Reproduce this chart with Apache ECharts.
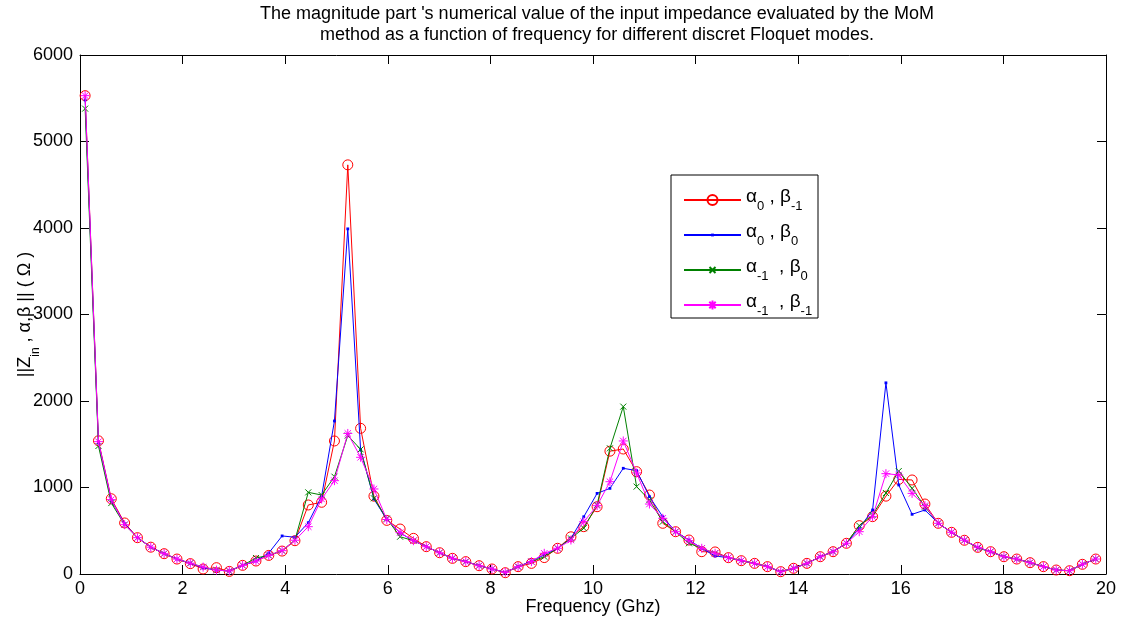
<!DOCTYPE html>
<html>
<head>
<meta charset="utf-8">
<script src="https://cdn.jsdelivr.net/npm/echarts@6/dist/echarts.min.js"></script>
<style>html,body{margin:0;padding:0;background:#fff}#c{width:1122px;height:625px}</style>
</head>
<body>
<div id="c"></div>
<script>
var freq = [0.10,0.36,0.61,0.87,1.12,1.38,1.64,1.89,2.15,2.40,2.66,2.91,3.17,3.43,3.68,3.94,4.19,4.45,4.71,4.96,
5.22,5.47,5.73,5.98,6.24,6.50,6.75,7.01,7.26,7.52,7.78,8.03,8.29,8.54,8.80,9.05,9.31,9.57,9.82,10.08,
10.33,10.59,10.85,11.10,11.36,11.61,11.87,12.12,12.38,12.64,12.89,13.15,13.40,13.66,13.91,14.17,14.43,14.68,14.94,15.19,
15.45,15.71,15.96,16.22,16.47,16.73,16.99,17.24,17.50,17.75,18.01,18.26,18.52,18.78,19.03,19.29,19.54,19.80];

var zA0Bm1 = [5530,1540,870,590,420,310,235,173,120,58,73,30,100,150,215,265,385,798,829,1538,
4730,1684,900,620,520,412,316,246,181,143,96,58,15,85,123,190,297,430,547,778,
1420,1445,1183,913,586,489,393,258,255,189,154,123,85,27,66,123,200,258,355,559,
663,900,1094,1087,809,586,482,390,308,258,200,173,131,85,46,38,112,173];

var zA0B0 = [5480,1520,850,580,420,310,235,173,125,70,46,35,100,150,243,440,425,593,900,1769,
3990,1434,867,630,474,385,316,246,181,143,96,58,19,85,150,220,297,412,662,932,
990,1222,1195,894,662,489,393,297,208,189,154,123,85,27,66,123,200,258,355,528,
740,2210,1029,690,740,586,482,390,308,258,200,173,131,85,46,38,112,173];

var zAm1B0 = [5380,1480,820,570,420,310,235,173,125,80,45,35,100,185,215,270,393,944,913,1125,
1600,1441,875,640,431,385,316,246,181,143,96,58,19,85,143,200,297,412,530,800,
1453,1935,1010,855,605,489,355,297,240,189,154,123,85,27,66,123,200,258,355,559,
682,936,1190,990,778,586,482,390,300,258,200,173,131,85,46,38,112,173];

var zAm1Bm1 = [5530,1530,860,570,420,310,235,173,125,80,45,35,100,150,215,270,390,547,867,1079,
1625,1349,983,630,478,385,316,246,181,143,96,58,19,85,143,239,297,393,605,790,
1067,1538,1168,809,644,489,385,297,240,189,154,123,85,27,66,123,200,258,355,489,
663,1160,1145,932,790,586,482,390,308,258,200,173,131,85,46,38,112,173];

var seriesNames = ['a0b-1','a0b0','a-1b0','a-1b-1'];
var legendLabels = {
  'a0b-1': '{n|α}{s|0}{n| , β}{s|-1}',
  'a0b0': '{n|α}{s|0}{n| , β}{s|0}',
  'a-1b0': '{n|α}{s|-1}{n|  , β}{s|0}',
  'a-1b-1': '{n|α}{s|-1}{n|  , β}{s|-1}'
};
var xTicks = {min:0, max:20, interval:2};
var yTicks = {min:0, max:6000, interval:1000};

function pairs(ys){ return freq.map(function(f,i){ return [f, ys[i]]; }); }

var SYM_CIRCLE = 'path://M0,0M12,12M1,6A5,5,0,1,1,11,6A5,5,0,1,1,1,6Z';
var SYM_DOT = 'path://M0,0M12,12M4.6,4.6H7.4V7.4H4.6Z';
var SYM_X = 'path://M0,0M12,12M3,3L9,9M9,3L3,9';
var SYM_STAR = 'path://M0,0M12,12M6,1.5V10.5M1.5,6H10.5M2.8,2.8L9.2,9.2M9.2,2.8L2.8,9.2';

var FONT = 'Liberation Sans, Arial, Helvetica, sans-serif';
var chart = echarts.init(document.getElementById('c'), null, {renderer:'canvas'});
var axisCommon = {
  axisLine:{show:true, onZero:false, lineStyle:{color:'#000', width:1}},
  axisTick:{show:true, inside:true, length:9, lineStyle:{color:'#000'}},
  splitLine:{show:false}
};
chart.setOption({
  animation:false,
  backgroundColor:'#fff',
  textStyle:{fontFamily:FONT},
  title:{
    text:"The magnitude part 's numerical value of the input impedance evaluated by the MoM\nmethod as a function of frequency for different discret Floquet modes.",
    left:592, top:-1, textAlign:'center',
    textStyle:{fontSize:18, fontWeight:'normal', color:'#000', lineHeight:21, fontFamily:FONT}
  },
  grid:{left:80, right:16, top:55, bottom:51, containLabel:false, outerBoundsMode:'none'},
  graphic:[{type:'rect', shape:{x:671, y:175, width:147, height:143}, style:{fill:'#fff', stroke:'#000', lineWidth:1}, z:50}],
  legend:{
    show:true, orient:'vertical', left:671, top:175,
    padding:[12,8,4,12], itemGap:9, itemWidth:57, itemHeight:15,
    z:60,
    data:seriesNames,
    formatter:function(n){ return legendLabels[n]; },
    textStyle:{color:'#000', rich:{
      n:{fontSize:19, lineHeight:26, verticalAlign:'top', fontFamily:FONT, color:'#000'},
      s:{fontSize:13, lineHeight:26, verticalAlign:'bottom', fontFamily:FONT, color:'#000'}
    }}
  },
  xAxis:[
    Object.assign({type:'value', position:'bottom', min:xTicks.min, max:xTicks.max, interval:xTicks.interval,
      name:'Frequency (Ghz)', nameLocation:'middle', nameGap:24, nameMoveOverlap:false,
      nameTextStyle:{fontSize:18, color:'#000', fontFamily:FONT},
      axisLabel:{fontSize:18, color:'#000', margin:6, fontFamily:FONT}}, axisCommon),
    Object.assign({type:'value', position:'top', min:xTicks.min, max:xTicks.max, interval:xTicks.interval,
      axisLabel:{show:false}}, axisCommon)
  ],
  yAxis:[
    Object.assign({type:'value', position:'left', min:yTicks.min, max:yTicks.max, interval:yTicks.interval,
      name:'{n|||Z}{s|in}{n| , α,β || ( Ω )}', nameLocation:'middle', nameGap:38, nameRotate:90, nameMoveOverlap:false,
      nameTextStyle:{rich:{
        n:{fontSize:18, lineHeight:26, verticalAlign:'top', color:'#000', fontFamily:FONT},
        s:{fontSize:12, lineHeight:26, verticalAlign:'bottom', color:'#000', fontFamily:FONT}
      }},
      axisLabel:{fontSize:18, color:'#000', margin:7, fontFamily:FONT, formatter:function(v){return String(v);}}}, axisCommon),
    Object.assign({type:'value', position:'right', min:yTicks.min, max:yTicks.max, interval:yTicks.interval,
      axisLabel:{show:false}}, axisCommon)
  ],
  series:[
    {name:'a0b-1', type:'line', data:pairs(zA0Bm1), showAllSymbol:true, symbol:SYM_CIRCLE, symbolSize:12,
      lineStyle:{color:'#ff0000', width:1}, itemStyle:{color:'rgba(255,255,255,0)', borderColor:'#ff0000', borderWidth:1}, z:2},
    {name:'a0b0', type:'line', data:pairs(zA0B0), showAllSymbol:true, symbol:SYM_DOT, symbolSize:12,
      lineStyle:{color:'#0000ff', width:1}, itemStyle:{color:'#0000ff', borderWidth:0}, z:3},
    {name:'a-1b0', type:'line', data:pairs(zAm1B0), showAllSymbol:true, symbol:SYM_X, symbolSize:12,
      lineStyle:{color:'#008000', width:1}, itemStyle:{color:'rgba(255,255,255,0)', borderColor:'#008000', borderWidth:1}, z:4},
    {name:'a-1b-1', type:'line', data:pairs(zAm1Bm1), showAllSymbol:true, symbol:SYM_STAR, symbolSize:12,
      lineStyle:{color:'#ff00ff', width:1}, itemStyle:{color:'rgba(255,255,255,0)', borderColor:'#ff00ff', borderWidth:1}, z:5}
  ]
});
</script>
</body>
</html>
